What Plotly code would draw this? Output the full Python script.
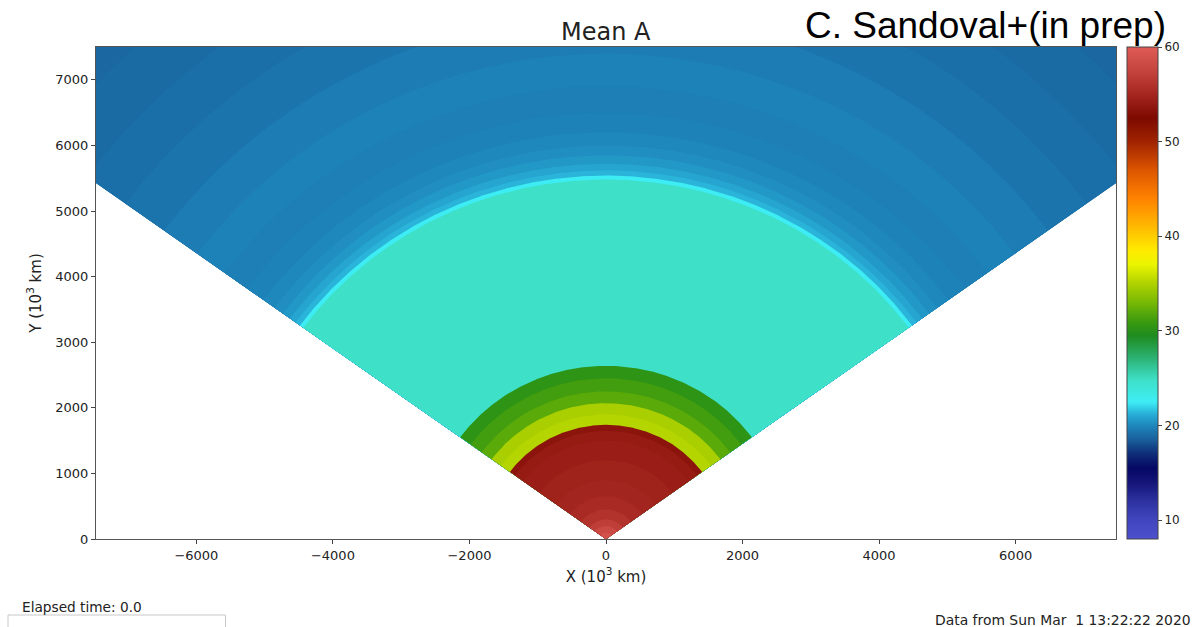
import numpy as np
import plotly.graph_objects as go
from plotly.colors import sample_colorscale

# Radial shells of the mean field: outer radius of each shell (10^3 km) and its value
shell_outer_km = [100, 200, 300, 450, 650, 900, 1200, 1500, 1650, 1740,
                  1900, 2070, 2250, 2450, 2640, 5480, 5540, 5620, 5720,
                  5850, 6000, 6200, 6500, 6900, 7400, 8000, 8700, 9400,
                  10200, 11000]
mean_a_value = [59.0, 58.0, 57.0, 56.0, 55.3, 54.9, 54.6, 54.3, 54.0, 53.4,
                35.2, 34.8, 32.0, 31.2, 30.3, 24.8, 22.6, 21.3, 20.9,
                20.5, 20.2, 20.0, 19.8, 19.7, 19.8, 19.6, 19.3, 19.1,
                18.9, 18.8]

# Half opening angle of the sector, measured from the vertical (degrees)
half_angle_deg = 54.0

x_ticks = [-6000, -4000, -2000, 0, 2000, 4000, 6000]
y_ticks = [0, 1000, 2000, 3000, 4000, 5000, 6000, 7000]
cbar_ticks = [10, 20, 30, 40, 50, 60]
zmin, zmax = 8, 60
x_lim = 7470
y_lim = 7500

# Colour table (value -> rgb)
cmap_values = [8, 10, 12, 14, 15.5, 17, 18.5, 20, 21.2, 22.5, 24.8, 27, 29.5,
               31, 33, 35, 37, 38.5, 41, 44, 47, 50, 52.5, 55, 57.5, 60]
cmap_colors = ["rgb(78,80,205)", "rgb(65,70,190)", "rgb(45,50,160)",
               "rgb(20,20,120)", "rgb(5,8,100)", "rgb(15,45,120)",
               "rgb(25,95,155)", "rgb(30,135,188)", "rgb(40,175,215)",
               "rgb(62,238,245)", "rgb(62,224,200)", "rgb(45,180,120)",
               "rgb(30,140,30)", "rgb(60,155,15)", "rgb(120,185,5)",
               "rgb(175,210,0)", "rgb(235,245,0)", "rgb(255,235,0)",
               "rgb(255,185,0)", "rgb(255,130,0)", "rgb(220,85,0)",
               "rgb(160,35,0)", "rgb(125,10,0)", "rgb(165,38,32)",
               "rgb(198,68,62)", "rgb(222,92,85)"]
colorscale = [[(v - zmin) / (zmax - zmin), c] for v, c in zip(cmap_values, cmap_colors)]

fig = go.Figure()

# Each shell is drawn as a filled sector (apex at the origin); drawing from the
# outermost shell inwards leaves every ring visible between consecutive radii.
a = np.radians(half_angle_deg)
theta = np.linspace(np.pi / 2 - a, np.pi / 2 + a, 600)
norm_vals = [(v - zmin) / (zmax - zmin) for v in mean_a_value]
shell_colors = sample_colorscale(colorscale, norm_vals)
for r_out, val, col in sorted(zip(shell_outer_km, mean_a_value, shell_colors),
                              key=lambda t: -t[0]):
    xs = np.concatenate([[0.0], r_out * np.cos(theta), [0.0]])
    ys = np.concatenate([[0.0], r_out * np.sin(theta), [0.0]])
    fig.add_trace(go.Scatter(
        x=xs, y=ys, fill="toself", fillcolor=col, mode="lines",
        line=dict(width=0, color=col), hoveron="fills",
        name=f"A = {val}", hoverinfo="name", showlegend=False,
    ))

# Colour bar for the field
fig.add_trace(go.Scatter(
    x=[0], y=[-1000], mode="markers", hoverinfo="skip", showlegend=False,
    marker=dict(
        size=1, opacity=0, color=[zmin], cmin=zmin, cmax=zmax,
        colorscale=colorscale, showscale=True,
        colorbar=dict(
            x=1 + 11 / 1020, xanchor="left", xpad=0, y=0.5, yanchor="middle",
            ypad=0, len=1, lenmode="fraction", thickness=31,
            outlinewidth=1, outlinecolor="#444",
            tickmode="array", tickvals=cbar_ticks, ticks="outside", ticklen=4,
            tickcolor="#444",
            tickfont=dict(family="DejaVu Sans", size=12, color="#222"),
        ),
    ),
))

axis_font = dict(family="DejaVu Sans", size=13, color="#222")
fig.update_layout(
    width=1202, height=627,
    margin=dict(l=96, r=86, t=47, b=88),
    paper_bgcolor="white", plot_bgcolor="white",
    showlegend=False,
    xaxis=dict(
        range=[-x_lim, x_lim], tickmode="array", tickvals=x_ticks,
        ticks="outside", ticklen=4, tickcolor="#444", tickfont=axis_font,
        showline=True, mirror=True, linecolor="#555", linewidth=1,
        showgrid=False, zeroline=False,
        title=dict(text="X (10<sup>3</sup> km)", standoff=9,
                   font=dict(family="DejaVu Sans", size=15, color="#222")),
    ),
    yaxis=dict(
        range=[0, y_lim], tickmode="array", tickvals=y_ticks,
        ticks="outside", ticklen=4, tickcolor="#444", tickfont=axis_font,
        showline=True, mirror=True, linecolor="#555", linewidth=1,
        showgrid=False, zeroline=False,
        title=dict(text="Y (10<sup>3</sup> km)", standoff=10,
                   font=dict(family="DejaVu Sans", size=15, color="#222")),
    ),
    annotations=[
        dict(text="Mean A", xref="paper", yref="paper", x=0.5, y=1 + 15 / 492,
             xanchor="center", yanchor="middle", showarrow=False,
             font=dict(family="DejaVu Sans", size=24, color="#222")),
        dict(text="C. Sandoval+(in prep)", xref="paper", yref="paper",
             x=(1168 - 96) / 1020, y=1 + 21 / 492, xanchor="right", yanchor="middle",
             showarrow=False, font=dict(family="Liberation Sans", size=37, color="black")),
        dict(text="Elapsed time: 0.0", xref="paper", yref="paper",
             x=(20 - 96) / 1020, y=(539 - 607) / 492, xanchor="left", yanchor="middle",
             showarrow=False, font=dict(family="DejaVu Sans", size=13.7, color="#222")),
        dict(text="Data from Sun Mar\u00a0\u00a01 13:22:22 2020", xref="paper", yref="paper",
             x=(1193 - 96) / 1020, y=(539 - 620) / 492, xanchor="right", yanchor="middle",
             showarrow=False, font=dict(family="DejaVu Sans", size=13.9, color="#222")),
    ],
    shapes=[
        dict(type="rect", xref="paper", yref="paper",
             x0=(8 - 96) / 1020, x1=(225.5 - 96) / 1020,
             y0=(539 - 640) / 492, y1=(539 - 615) / 492,
             line=dict(color="#c8c8c8", width=1), fillcolor="rgba(0,0,0,0)"),
    ],
)

fig.write_html("out.html")
